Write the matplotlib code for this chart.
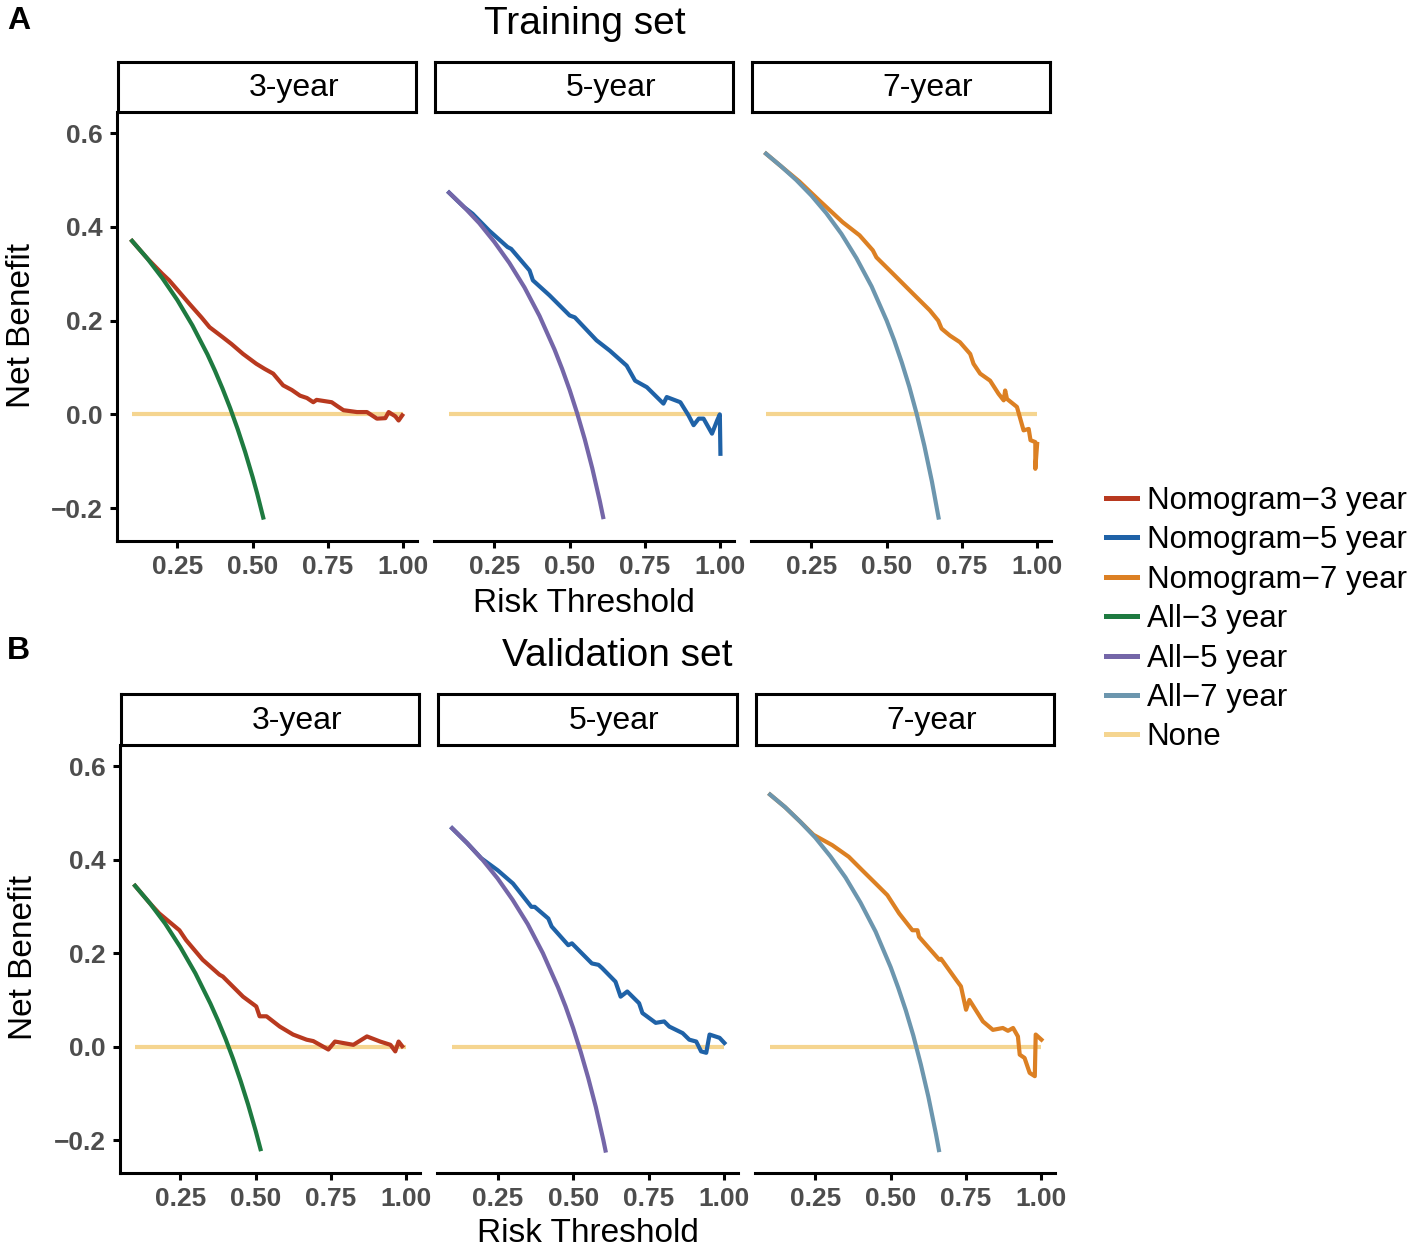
import matplotlib
matplotlib.use('Agg')
import matplotlib.pyplot as plt
from matplotlib.lines import Line2D

plt.rcParams['font.family'] = ['Liberation Sans', 'DejaVu Sans']

W, H = 1417, 1253

# ---- data ----
horizons = ['3-year', '5-year', '7-year']
legend_labels = ['Nomogram\u22123 year', 'Nomogram\u22125 year', 'Nomogram\u22127 year',
                 'All\u22123 year', 'All\u22125 year', 'All\u22127 year', 'None']
colors = ['#B8391F', '#1F62A7', '#DC8023', '#1E7A40', '#7466A8', '#6C96AE', '#F5D590']

none_x = [0.10, 1.00]
none_y = [0.0, 0.0]

# training set, treat-all curves
all_tr3_x = [0.10, 0.15, 0.20, 0.25, 0.30, 0.35, 0.375, 0.40, 0.425, 0.45, 0.475, 0.50, 0.515, 0.535]
all_tr3_y = [0.370, 0.333, 0.291, 0.244, 0.190, 0.128, 0.093, 0.055, 0.014, -0.031, -0.080, -0.134, -0.169, -0.220]
all_tr5_x = [0.10, 0.15, 0.20, 0.25, 0.30, 0.35, 0.40, 0.45, 0.475, 0.50, 0.525, 0.55, 0.575, 0.60, 0.611]
all_tr5_y = [0.473, 0.442, 0.408, 0.368, 0.323, 0.271, 0.210, 0.138, 0.097, 0.052, 0.002, -0.053, -0.115, -0.185, -0.219]
all_tr7_x = [0.10, 0.15, 0.20, 0.25, 0.30, 0.35, 0.40, 0.45, 0.50, 0.525, 0.55, 0.575, 0.60, 0.625, 0.65, 0.672]
all_tr7_y = [0.556, 0.529, 0.500, 0.467, 0.429, 0.385, 0.333, 0.273, 0.200, 0.158, 0.111, 0.059, 0.0, -0.067, -0.143, -0.220]

# training set, nomogram curves
nom_tr3_x = [0.10, 0.15, 0.20, 0.223, 0.25, 0.29, 0.33, 0.357, 0.40, 0.43, 0.468, 0.512, 0.54,
             0.568, 0.601, 0.63, 0.657, 0.68, 0.701, 0.712, 0.762, 0.78, 0.801, 0.846, 0.879,
             0.912, 0.94, 0.951, 0.973, 0.984, 0.996]
nom_tr3_y = [0.370, 0.333, 0.300, 0.286, 0.266, 0.236, 0.207, 0.186, 0.165, 0.150, 0.129, 0.108,
             0.097, 0.087, 0.062, 0.052, 0.040, 0.035, 0.026, 0.031, 0.026, 0.018, 0.009, 0.005,
             0.005, -0.009, -0.008, 0.005, -0.004, -0.013, -0.002]
nom_tr5_x = [0.10, 0.15, 0.178, 0.233, 0.294, 0.306, 0.367, 0.378, 0.433, 0.50, 0.517, 0.589,
             0.633, 0.689, 0.717, 0.756, 0.811, 0.822, 0.867, 0.894, 0.911, 0.928, 0.944, 0.972,
             0.989, 0.998, 1.0]
nom_tr5_y = [0.473, 0.442, 0.428, 0.392, 0.357, 0.353, 0.307, 0.286, 0.254, 0.211, 0.207, 0.158,
             0.136, 0.104, 0.072, 0.058, 0.023, 0.037, 0.026, -0.002, -0.023, -0.009, -0.009,
             -0.041, -0.013, 0.000, -0.084]
nom_tr7_x = [0.10, 0.15, 0.21, 0.277, 0.354, 0.41, 0.454, 0.466, 0.521, 0.588, 0.643, 0.671,
             0.682, 0.71, 0.743, 0.777, 0.788, 0.81, 0.843, 0.871, 0.888, 0.893, 0.899, 0.932,
             0.943, 0.954, 0.971, 0.977, 0.993, 0.993, 0.999]
nom_tr7_y = [0.556, 0.529, 0.497, 0.456, 0.410, 0.382, 0.350, 0.335, 0.300, 0.257, 0.222, 0.200,
             0.183, 0.168, 0.154, 0.129, 0.108, 0.087, 0.072, 0.044, 0.030, 0.051, 0.033, 0.016,
             -0.009, -0.034, -0.031, -0.055, -0.059, -0.116, -0.063]

# validation set, treat-all curves
all_va3_x = [0.10, 0.15, 0.20, 0.25, 0.30, 0.35, 0.375, 0.40, 0.425, 0.45, 0.475, 0.50, 0.516]
all_va3_y = [0.344, 0.306, 0.263, 0.213, 0.157, 0.092, 0.056, 0.017, -0.026, -0.073, -0.124, -0.180, -0.219]
all_va5_x = [0.10, 0.15, 0.20, 0.25, 0.30, 0.35, 0.40, 0.45, 0.475, 0.50, 0.525, 0.55, 0.575, 0.60, 0.607]
all_va5_y = [0.467, 0.435, 0.400, 0.360, 0.314, 0.262, 0.200, 0.127, 0.086, 0.040, -0.011, -0.067, -0.129, -0.200, -0.222]
all_va7_x = [0.10, 0.15, 0.20, 0.25, 0.30, 0.35, 0.40, 0.45, 0.50, 0.525, 0.55, 0.575, 0.60, 0.625, 0.65, 0.66]
all_va7_y = [0.539, 0.512, 0.481, 0.447, 0.407, 0.362, 0.308, 0.246, 0.170, 0.126, 0.078, 0.024, -0.038, -0.107, -0.186, -0.221]

# validation set, nomogram curves
nom_va3_x = [0.10, 0.15, 0.18, 0.247, 0.269, 0.324, 0.38, 0.391, 0.458, 0.502, 0.513, 0.536,
             0.58, 0.624, 0.669, 0.691, 0.741, 0.763, 0.824, 0.869, 0.913, 0.947, 0.963, 0.974, 0.986]
nom_va3_y = [0.344, 0.306, 0.285, 0.249, 0.228, 0.186, 0.154, 0.150, 0.107, 0.086, 0.065, 0.065,
             0.043, 0.026, 0.015, 0.012, -0.006, 0.011, 0.004, 0.022, 0.011, 0.004, -0.010, 0.011, 0.001]
nom_va5_x = [0.10, 0.15, 0.196, 0.251, 0.301, 0.362, 0.373, 0.418, 0.429, 0.484, 0.496, 0.562,
             0.584, 0.596, 0.64, 0.657, 0.679, 0.718, 0.729, 0.773, 0.801, 0.818, 0.862, 0.884,
             0.907, 0.923, 0.94, 0.951, 0.984, 1.0]
nom_va5_y = [0.467, 0.435, 0.403, 0.377, 0.349, 0.299, 0.299, 0.274, 0.257, 0.217, 0.221, 0.178,
             0.175, 0.168, 0.139, 0.107, 0.118, 0.093, 0.072, 0.051, 0.054, 0.043, 0.029, 0.015,
             0.011, -0.010, -0.013, 0.026, 0.019, 0.008]
nom_va7_x = [0.10, 0.15, 0.20, 0.244, 0.306, 0.361, 0.406, 0.45, 0.489, 0.528, 0.572, 0.589,
             0.594, 0.661, 0.667, 0.717, 0.733, 0.75, 0.761, 0.806, 0.839, 0.872, 0.889, 0.906,
             0.922, 0.928, 0.944, 0.961, 0.978, 0.981, 1.0]
nom_va7_y = [0.539, 0.512, 0.481, 0.453, 0.431, 0.406, 0.377, 0.349, 0.324, 0.285, 0.249, 0.249,
             0.235, 0.186, 0.188, 0.143, 0.129, 0.079, 0.100, 0.054, 0.036, 0.040, 0.034, 0.040,
             0.022, -0.017, -0.024, -0.056, -0.063, 0.026, 0.015]

x_ticks = [0.25, 0.50, 0.75, 1.00]
x_tick_labels = ['0.25', '0.50', '0.75', '1.00']
y_ticks = [-0.2, 0.0, 0.2, 0.4, 0.6]
y_tick_labels = ['\u22120.2', '0.0', '0.2', '0.4', '0.6']

LW = 3.0


def px_axes(fig, left, top, right, bottom):
    return fig.add_axes([left / W, 1 - bottom / H, (right - left) / W, (bottom - top) / H])


def draw_row(fig, lefts, rights, strip_top, top, bottom, noms, alls):
    for i in range(3):
        ax = px_axes(fig, lefts[i], top, rights[i], bottom)
        ax.plot(none_x, none_y, color=colors[6], lw=LW, solid_capstyle='butt')
        ax.plot(noms[i][0], noms[i][1], color=colors[i], lw=LW, solid_joinstyle='round')
        ax.plot(alls[i][0], alls[i][1], color=colors[3 + i], lw=LW)
        ax.set_xlim(0.05, 1.045)
        ax.set_ylim(-0.27, 0.645)
        for s in ['top', 'right']:
            ax.spines[s].set_visible(False)
        ax.spines['bottom'].set_linewidth(2.2)
        ax.spines['left'].set_linewidth(2.2)
        ax.set_xticks(x_ticks)
        ax.set_xticklabels(x_tick_labels, fontsize=19, fontweight='bold', color='#4D4D4D')
        ax.tick_params(axis='both', length=5, width=2.2, pad=5)
        if i == 0:
            ax.set_yticks(y_ticks)
            ax.set_yticklabels(y_tick_labels, fontsize=19, fontweight='bold', color='#4D4D4D')
        else:
            ax.spines['left'].set_visible(False)
            ax.set_yticks([])
        # facet strip
        sx = px_axes(fig, lefts[i] + 1, strip_top, rights[i] - 1, top)
        sx.set_xticks([])
        sx.set_yticks([])
        for s in sx.spines.values():
            s.set_linewidth(2.2)
        sx.text(0.59, 0.48, horizons[i], ha='center', va='center', fontsize=23,
                transform=sx.transAxes)


fig = plt.figure(figsize=(W / 100, H / 100), dpi=100)

draw_row(fig, [117, 434, 751], [417, 734, 1051], 62, 112, 541,
         [(nom_tr3_x, nom_tr3_y), (nom_tr5_x, nom_tr5_y), (nom_tr7_x, nom_tr7_y)],
         [(all_tr3_x, all_tr3_y), (all_tr5_x, all_tr5_y), (all_tr7_x, all_tr7_y)])
draw_row(fig, [120, 437, 755], [420, 738, 1055], 694, 745, 1173,
         [(nom_va3_x, nom_va3_y), (nom_va5_x, nom_va5_y), (nom_va7_x, nom_va7_y)],
         [(all_va3_x, all_va3_y), (all_va5_x, all_va5_y), (all_va7_x, all_va7_y)])

# titles and labels
fig.text(585 / W, 1 - 24 / H, 'Training set', ha='center', va='center', fontsize=28)
fig.text(617 / W, 1 - 656 / H, 'Validation set', ha='center', va='center', fontsize=28)
fig.text(584 / W, 1 - 603 / H, 'Risk Threshold', ha='center', va='center', fontsize=24)
fig.text(588 / W, 1 - 1234 / H, 'Risk Threshold', ha='center', va='center', fontsize=24)
fig.text(22 / W, 1 - 326 / H, 'Net Benefit', ha='center', va='center', fontsize=24, rotation=90)
fig.text(24 / W, 1 - 958 / H, 'Net Benefit', ha='center', va='center', fontsize=24, rotation=90)
fig.text(7 / W, 1 - 21 / H, 'A', ha='left', va='center', fontsize=23, fontweight='bold')
fig.text(7 / W, 1 - 651 / H, 'B', ha='left', va='center', fontsize=23, fontweight='bold')

# legend
handles = [Line2D([0], [0], color=c, lw=LW + 0.6) for c in colors]
fig.legend(handles, legend_labels, loc='upper left',
           bbox_to_anchor=(1106 / W, 1 - 486 / H), frameon=False, fontsize=22.5,
           handlelength=1.0, handletextpad=0.3, labelspacing=0.3,
           borderpad=0, borderaxespad=0)

fig.savefig('out.png', dpi=100)
